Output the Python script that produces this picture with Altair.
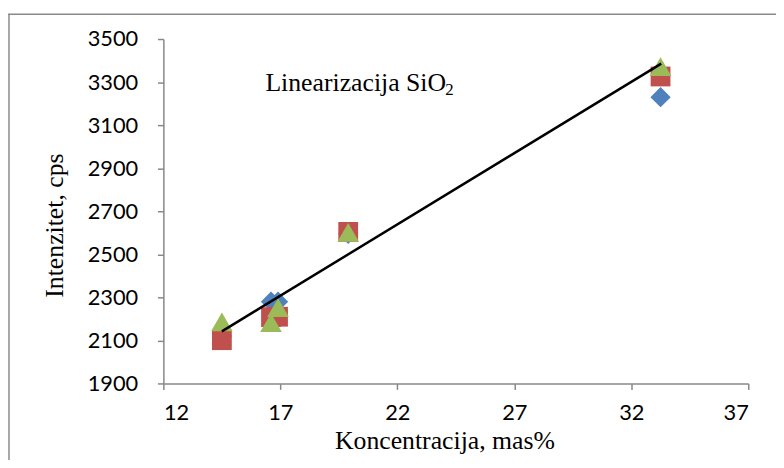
import altair as alt
import pandas as pd

# ---- data ----
conc = [14.5, 16.6, 16.9, 19.9, 33.25]
series1 = [2120, 2280, 2280, 2595, 3230]   # blue diamonds
series2 = [2101, 2208, 2210, 2604, 3326]   # red squares
series3 = [2186, 2183, 2252, 2602, 3372]   # green triangles

trend_x = [14.5, 33.28]
trend_y = [2142, 3386]

x_ticks = [12, 17, 22, 27, 32, 37]
y_ticks = [1900, 2100, 2300, 2500, 2700, 2900, 3100, 3300, 3500]

ann_text = ["Linearizacija SiO"]
ann_x = [16.36]
ann_y = [3258]
sub_text = ["2"]
sub_x = [24.05]
sub_y = [3239]

W, H = 591, 348

xscale = alt.Scale(domain=[12, 37], nice=False, zero=False)
yscale = alt.Scale(domain=[1900, 3500], nice=False, zero=False)

xaxis = alt.Axis(values=x_ticks, title="Koncentracija, mas%", grid=False, format="d",
                 domainColor="#888888", tickColor="#888888", tickSize=6,
                 domainWidth=1.5, tickWidth=1.5,
                 labelFont="Lato", labelFontSize=22, labelColor="black", labelPadding=13,
                 titleFont="Liberation Serif", titleFontSize=26, titleFontWeight="normal",
                 titleColor="black", titleBaseline="alphabetic", titleY=66, titleX=284,
                 titleAlign="center")
yaxis = alt.Axis(values=y_ticks, title="Intenzitet, cps", grid=False, format="d",
                 domainColor="#888888", tickColor="#888888", tickSize=6,
                 domainWidth=1.5, tickWidth=1.5,
                 labelFont="Lato", labelFontSize=22, labelColor="black", labelPadding=20,
                 titleFont="Liberation Serif", titleFontSize=26, titleFontWeight="normal",
                 titleColor="black", titleBaseline="alphabetic", titleAngle=270,
                 titleX=-102, titleY=188, titleAlign="center")

df = pd.DataFrame({"conc": conc, "s1": series1, "s2": series2, "s3": series3})

base = alt.Chart(df)

blue = base.mark_point(shape="diamond", filled=True, size=420, color="#4F81BD", opacity=1).encode(
    x=alt.X("conc:Q", scale=xscale, axis=xaxis),
    y=alt.Y("s1:Q", scale=yscale, axis=yaxis),
)
red = base.mark_point(shape="square", filled=True, size=400, color="#C0504D", opacity=1).encode(
    x=alt.X("conc:Q", scale=xscale),
    y=alt.Y("s2:Q", scale=yscale),
)
green = base.mark_point(shape="triangle-up", filled=True, size=480, color="#9BBB59", opacity=1).encode(
    x=alt.X("conc:Q", scale=xscale),
    y=alt.Y("s3:Q", scale=yscale),
)

trend = alt.Chart(pd.DataFrame({"x": trend_x, "y": trend_y})).mark_line(
    color="black", strokeWidth=2.5).encode(
    x=alt.X("x:Q", scale=xscale),
    y=alt.Y("y:Q", scale=yscale),
)

ann = alt.Chart(pd.DataFrame({"t": ann_text, "x": ann_x, "y": ann_y})).mark_text(
    font="Liberation Serif", fontSize=26, align="left", baseline="alphabetic", color="black").encode(
    x=alt.X("x:Q", scale=xscale),
    y=alt.Y("y:Q", scale=yscale),
    text="t:N",
)
sub = alt.Chart(pd.DataFrame({"t": sub_text, "x": sub_x, "y": sub_y})).mark_text(
    font="Liberation Serif", fontSize=17, align="left", baseline="alphabetic", color="black").encode(
    x=alt.X("x:Q", scale=xscale),
    y=alt.Y("y:Q", scale=yscale),
    text="t:N",
)

frame_left = alt.Chart(alt.Data(values=[{}])).mark_rule(
    color="#8a8a8a", strokeWidth=1.5, clip=False).encode(
    x=alt.value(-156), y=alt.value(-25), y2=alt.value(H + 120),
)
frame_top = alt.Chart(alt.Data(values=[{}])).mark_rule(
    color="#8a8a8a", strokeWidth=1.5, clip=False).encode(
    y=alt.value(-25), x=alt.value(-157), x2=alt.value(W + 40),
)

chart = alt.layer(frame_left, frame_top, blue, red, green, trend, ann, sub).properties(
    width=W, height=H,
    autosize=alt.AutoSizeParams(type="none"),
    padding={"left": 157, "top": 29, "right": 28, "bottom": 75},
    background="white",
).configure_view(strokeWidth=0)

chart.save("out.html", embed_options={"renderer": "svg", "actions": False})
